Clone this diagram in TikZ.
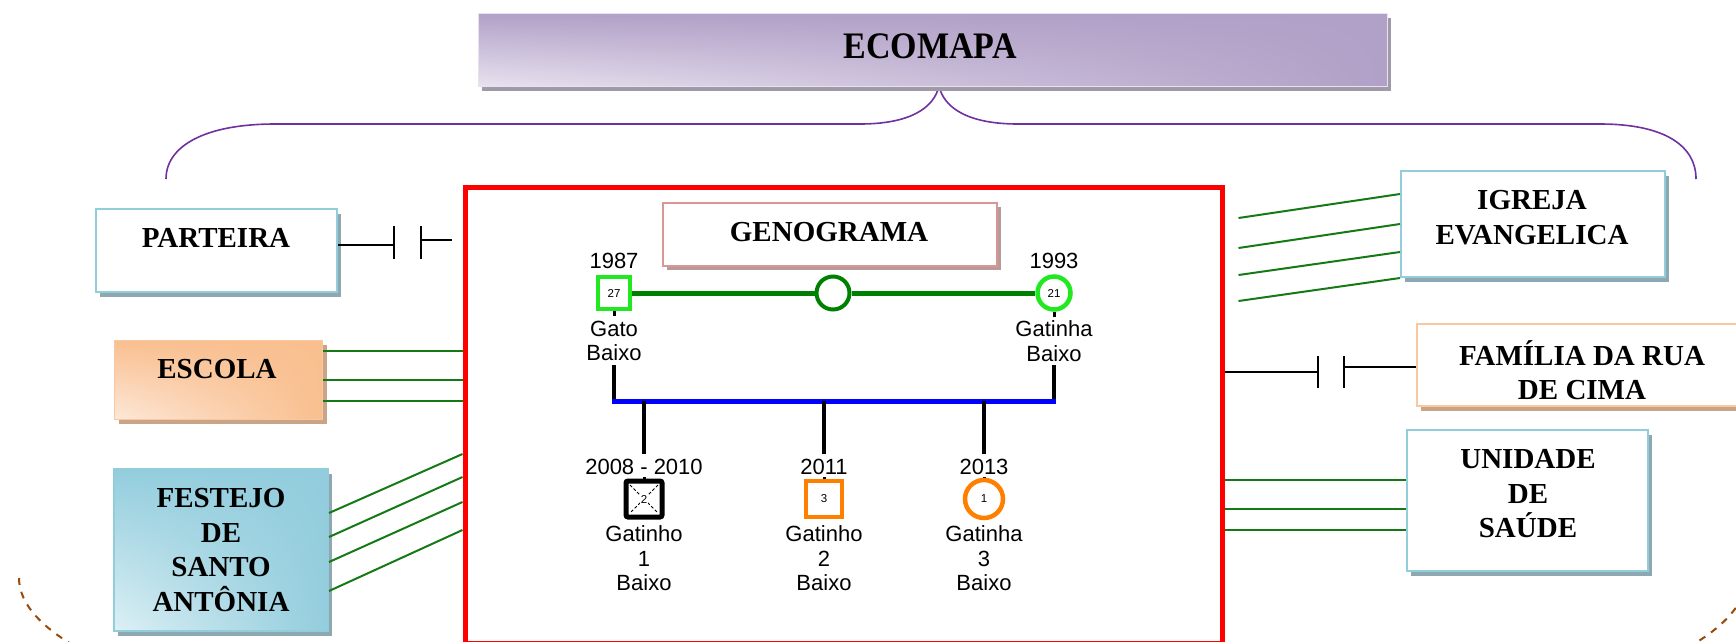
\documentclass[tikz,border=0pt]{standalone}
\usepackage{fontspec}
\setmainfont{Liberation Serif}
\newfontfamily\labelsans{Liberation Sans}
\usetikzlibrary{shadows,shadings,calc}

\definecolor{ecofill}{HTML}{B1A0C7}
\definecolor{ecolight}{HTML}{E8E2EF}
\definecolor{ecoshadow}{HTML}{A09AA8}
\definecolor{bracepurple}{HTML}{7030A0}
\definecolor{skyborder}{HTML}{92CDDC}
\definecolor{skyshadow}{HTML}{8EA8B2}
\definecolor{skyfill}{HTML}{93CDDD}
\definecolor{skylight}{HTML}{DDF0F5}
\definecolor{peachfill}{HTML}{F9BF8F}
\definecolor{peachlight}{HTML}{FDE8D9}
\definecolor{peachshadow}{HTML}{C9A486}
\definecolor{peachborder}{HTML}{FAC8A0}
\definecolor{roseborder}{HTML}{D99694}
\definecolor{roseshadow}{HTML}{B89A9A}
\definecolor{tiegreen}{HTML}{157A15}
\definecolor{uniongreen}{HTML}{008000}
\definecolor{brightgreen}{HTML}{22E822}
\definecolor{kidorange}{HTML}{FF8000}
\definecolor{dashbrown}{HTML}{9A4A0A}

\begin{document}
\begin{tikzpicture}[x=1pt,y=-1pt,
  panel/.style={draw=skyborder, line width=2pt, fill=white, inner sep=0pt,
    general shadow={fill=skyshadow, shadow xshift=4pt, shadow yshift=-5pt}},
  boxtext/.style={font=\bfseries\fontsize{29}{34.5}\selectfont, align=center, inner sep=0pt},
  gentext/.style={font=\labelsans\fontsize{22}{24.5}\selectfont, align=center, inner sep=0pt},
  numtext/.style={font=\labelsans\fontsize{11.5}{12}\selectfont},
  tie/.style={tiegreen, line width=2pt},
  cut/.style={black, line width=1.6pt},
  genline/.style={black, line width=4.5pt},
  stub/.style={black, line width=3pt}]
\useasboundingbox (0,0) rectangle (1736,641);
\clip (0,0) rectangle (1736,641);

% brace below the title
\draw[bracepurple, line width=1.6pt]
  (166,179) .. controls (166,146) and (205,124) .. (275,124) -- (860,124)
  .. controls (910,124) and (934,108) .. (939,86)
  .. controls (944,108) and (968,124) .. (1018,124) -- (1600,124)
  .. controls (1665,124) and (1696,146) .. (1696,179);

% dashed outer ring
\draw[dashbrown, line width=2pt, dash pattern=on 7pt off 7pt]
  (19,578) arc[start angle=180, end angle=0, x radius=863.5, y radius=192.5];

% title
\node[draw=ecolight, line width=1pt, inner sep=0pt, minimum width=909pt, minimum height=73pt,
  lower left=ecolight, upper left=ecofill, upper right=ecofill, lower right=ecofill,
  general shadow={fill=ecoshadow, shadow xshift=4pt, shadow yshift=-5pt}]
  (ecomapa) at (932.5,49.5) {};
\node[font=\bfseries\fontsize{34}{40}\selectfont, inner sep=0pt, yscale=1.1] (ecomapaT) at (930,46) {ECOMAPA};

% genogram frame
\node[draw=red, line width=5pt, inner sep=0pt, minimum width=757pt, minimum height=456pt]
  (genobox) at (843.5,415) {};
\node[draw=roseborder, line width=2pt, fill=white, inner sep=0pt, minimum width=334pt, minimum height=63pt,
  general shadow={fill=roseshadow, shadow xshift=4pt, shadow yshift=-4pt}]
  (genograma) at (830,234.5) {};
\node[boxtext] (genogramaT) at (829,232) {GENOGRAMA};

% outside resources
\node[panel, minimum width=241pt, minimum height=83pt] (parteira) at (216.5,250.5) {};
\node[boxtext] (parteiraT) at (216,238) {PARTEIRA};

\node[draw=peachborder, line width=1pt, inner sep=0pt, minimum width=208pt, minimum height=79pt,
  lower left=peachlight, upper left=peachfill, upper right=peachfill, lower right=peachfill,
  general shadow={fill=peachshadow, shadow xshift=5pt, shadow yshift=-5pt}]
  (escola) at (218,379.5) {};
\node[boxtext] (escolaT) at (217,369) {ESCOLA};

\node[draw=skyborder, line width=2pt, inner sep=0pt, minimum width=214pt, minimum height=162pt,
  lower left=skylight, upper left=skyfill, upper right=skyfill, lower right=skyfill,
  general shadow={fill=skyshadow, shadow xshift=4pt, shadow yshift=-5pt}]
  (festejo) at (221,550) {};
\node[boxtext] (festejoT) at (221,550) {FESTEJO\\DE\\SANTO\\ANTÔNIA};

\node[panel, minimum width=264pt, minimum height=106pt] (igreja) at (1533,224) {};
\node[boxtext] (igrejaT) at (1532,217.5) {IGREJA\\EVANGELICA};

\node[draw=peachborder, line width=2pt, fill=white, inner sep=0pt, minimum width=328pt, minimum height=82pt,
  general shadow={fill=peachshadow, shadow xshift=4pt, shadow yshift=-5pt}]
  (familia) at (1581,365) {};
\node[boxtext] (familiaT) at (1582,370) {FAMÍLIA DA RUA\\DE CIMA};

\node[panel, minimum width=241pt, minimum height=141pt] (unidade) at (1527.5,500.5) {};
\node[boxtext] (unidadeT) at (1528,494) {UNIDADE\\DE\\SAÚDE};

% strong ties
\foreach \y in {351,380,401}
  \draw[tie] (escola.east |- 0,\y) -- (genobox.west |- 0,\y);
\foreach \a/\b in {513/454,537/477,562/502,591/530}
  \draw[tie] (festejo.east |- 0,\a) -- (genobox.west |- 0,\b);
\foreach \a/\b in {218/194,248/224,275/252,301/278}
  \draw[tie] ($(genobox.east |- 0,\a)+(14,0)$) -- (igreja.west |- 0,\b);
\foreach \y in {480,509,530}
  \draw[tie] (genobox.east |- 0,\y) -- (unidade.west |- 0,\y);

% broken ties
\coordinate (pcut1) at (394,245);
\coordinate (pcut2) at (421,240);
\coordinate (pend) at (452,240);
\draw[cut] (parteira.east |- pcut1) -- (pcut1);
\draw[cut] (394,226) -- (394,259);
\draw[cut] (421,226) -- (421,259);
\draw[cut] (pcut2) -- (pend);

\coordinate (fcut1) at (1318,372);
\coordinate (fcut2) at (1344,367);
\draw[cut] (genobox.east |- fcut1) -- (fcut1);
\draw[cut] (1318,356) -- (1318,388);
\draw[cut] (1344,356) -- (1344,388);
\draw[cut] (fcut2) -- (familia.west |- fcut2);

% parents
\node[gentext] (anoPai) at (614,261) {1987};
\node[gentext] (anoMae) at (1054,261) {1993};
\node[draw=brightgreen, line width=4.5pt, fill=white, minimum size=32pt, inner sep=0pt, numtext]
  (gato) at (614,293) {27};
\node[circle, draw=brightgreen, line width=4.5pt, fill=white, minimum size=33pt, inner sep=0pt, numtext]
  (gatinha) at (1054,293) {21};
\node[circle, draw=uniongreen, line width=4pt, fill=white, minimum size=33pt, inner sep=0pt]
  (uniao) at (833,293) {};
\draw[uniongreen, line width=5pt] (gato) -- (uniao);
\draw[uniongreen, line width=5pt] (uniao) -- (gatinha);
\draw[stub] (gato.south) -- ++(0,5);
\draw[stub] (gatinha.south) -- ++(0,5);
\node[gentext] (gatoT) at (614,341) {Gato\\Baixo};
\node[gentext] (gatinhaT) at (1054,341) {Gatinha\\Baixo};

% children line
\coordinate (paiDrop) at (614,401);
\coordinate (maeDrop) at (1054,401);
\draw[genline] (gato |- 0,365) -- (paiDrop);
\draw[genline] (gatinha |- 0,365) -- (maeDrop);
\draw[blue, line width=5pt] ($(paiDrop)+(-2,0)$) -- ($(maeDrop)+(2,0)$);
\coordinate (f1) at (644,401);
\coordinate (f2) at (824,401);
\coordinate (f3) at (984,401);

% children
\node[gentext] (ano1) at (644,467) {2008 - 2010};
\node[gentext] (ano2) at (824,467) {2011};
\node[gentext] (ano3) at (984,467) {2013};
\draw[stub] (644,477) -- (644,484);
\draw[stub] (824,477) -- (824,484);
\draw[stub] (984,477) -- (984,484);
\node[draw=black, line width=5pt, rounded corners=2pt, fill=white, minimum size=36pt, inner sep=0pt]
  (kid1) at (644,499) {};
\draw[black, line width=1pt, dash pattern=on 3pt off 2pt] (630,485) -- (658,513) (658,485) -- (630,513);
\node[numtext, fill=white, inner sep=1pt] (kid1n) at (kid1) {2};
\node[draw=kidorange, line width=4.5pt, fill=white, minimum size=36pt, inner sep=0pt, numtext]
  (kid2) at (824,499) {3};
\node[circle, draw=kidorange, line width=4.5pt, fill=white, minimum size=38pt, inner sep=0pt, numtext]
  (kid3) at (984,499) {1};
\draw[genline] (f1) -- (ano1.north |- 0,454);
\draw[genline] (f2) -- (ano2.north |- 0,454);
\draw[genline] (f3) -- (ano3.north |- 0,454);
\node[gentext] (kid1T) at (644,558.5) {Gatinho\\1\\Baixo};
\node[gentext] (kid2T) at (824,558.5) {Gatinho\\2\\Baixo};
\node[gentext] (kid3T) at (984,558.5) {Gatinha\\3\\Baixo};
\end{tikzpicture}
\end{document}
